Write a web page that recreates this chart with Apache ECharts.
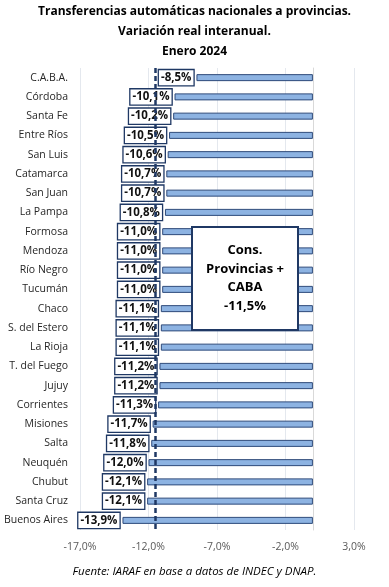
<!DOCTYPE html>
<html>
<head>
<meta charset="utf-8">
<script src="https://cdn.jsdelivr.net/npm/echarts@6/dist/echarts.min.js"></script>
<style>
html,body{margin:0;padding:0;background:#fff;}
#chart{width:389px;height:587px;}
</style>
</head>
<body>
<div id="chart"></div>
<script>
const categories = ['C.A.B.A.','Córdoba','Santa Fe','Entre Ríos','San Luis','Catamarca','San Juan','La Pampa','Formosa','Mendoza','Río Negro','Tucumán','Chaco','S. del Estero','La Rioja','T. del Fuego','Jujuy','Corrientes','Misiones','Salta','Neuquén','Chubut','Santa Cruz','Buenos Aires'];
const values = [-8.5,-10.1,-10.2,-10.5,-10.6,-10.7,-10.7,-10.8,-11.0,-11.0,-11.0,-11.0,-11.1,-11.1,-11.1,-11.2,-11.2,-11.3,-11.7,-11.8,-12.0,-12.1,-12.1,-13.9];
const average = -11.5;
const titleLines = ['Transferencias automáticas nacionales a provincias.','Variación real interanual.','Enero 2024'];
const boxLines = ['Cons.','Provincias +','CABA','-11,5%'];
const sourceText = 'Fuente: IARAF en base a datos de INDEC y DNAP.';

const fmt = v => v.toFixed(1).replace('.', ',') + '%';
const FONT = 'Open Sans';

const chart = echarts.init(document.getElementById('chart'), null, {renderer:'canvas'});
chart.setOption({
  animation:false,
  backgroundColor:'#fff',
  textStyle:{fontFamily:FONT},
  title:[
    {text:titleLines.join('\n'), left:'center', top:-3,
     textStyle:{fontSize:12, fontWeight:'bold', color:'#000', lineHeight:20, fontFamily:FONT, align:'center'}},
    {text:sourceText, left:'center', top:561,
     textStyle:{fontSize:11.5, fontStyle:'italic', fontWeight:'normal', color:'#000', fontFamily:FONT}}
  ],
  grid:{left:80, right:35, top:68, bottom:57, containLabel:false},
  xAxis:{
    type:'value', min:-17, max:3, interval:5,
    axisLabel:{formatter:fmt, color:'#595959', fontSize:10.5, margin:12, fontFamily:FONT},
    axisLine:{show:false}, axisTick:{show:false},
    splitLine:{show:true, lineStyle:{color:'#e4e8ee', width:1}}
  },
  yAxis:{
    type:'category', data:categories, inverse:true,
    axisLine:{show:true, onZero:true, lineStyle:{color:'#d9d9d9'}},
    axisTick:{show:false},
    axisLabel:{color:'#262626', fontSize:10.5, margin:12, fontFamily:FONT}
  },
  series:[{
    type:'bar', data:values, barWidth:7,
    itemStyle:{color:'#8db3e2', borderColor:'#2e4a7a', borderWidth:1},
    label:{
      show:true, position:'left', distance:3, formatter:p => fmt(p.value),
      color:'#111', fontSize:11.5, fontWeight:'bold', fontFamily:FONT,
      backgroundColor:'#fff', borderColor:'#1f3864', borderWidth:1.3,
      padding:[2,2,1,2]
    },
    markLine:{
      symbol:'none', silent:true,
      label:{show:false},
      lineStyle:{color:'#1f3864', type:[5,3], width:2.5},
      data:[{xAxis:average}]
    },
    z:2
  }],
  graphic:[
    {type:'rect', left:191, top:226, z:100,
     shape:{x:0,y:0,width:106,height:103},
     style:{fill:'#fff', stroke:'#1f3864', lineWidth:2},
     textContent:{
       z:101,
       style:{text:boxLines.join('\n'), align:'center', verticalAlign:'middle',
              font:'bold 13px "Open Sans"', lineHeight:18.5, fill:'#000'}
     },
     textConfig:{position:'inside'}
    }
  ]
});
</script>
</body>
</html>
